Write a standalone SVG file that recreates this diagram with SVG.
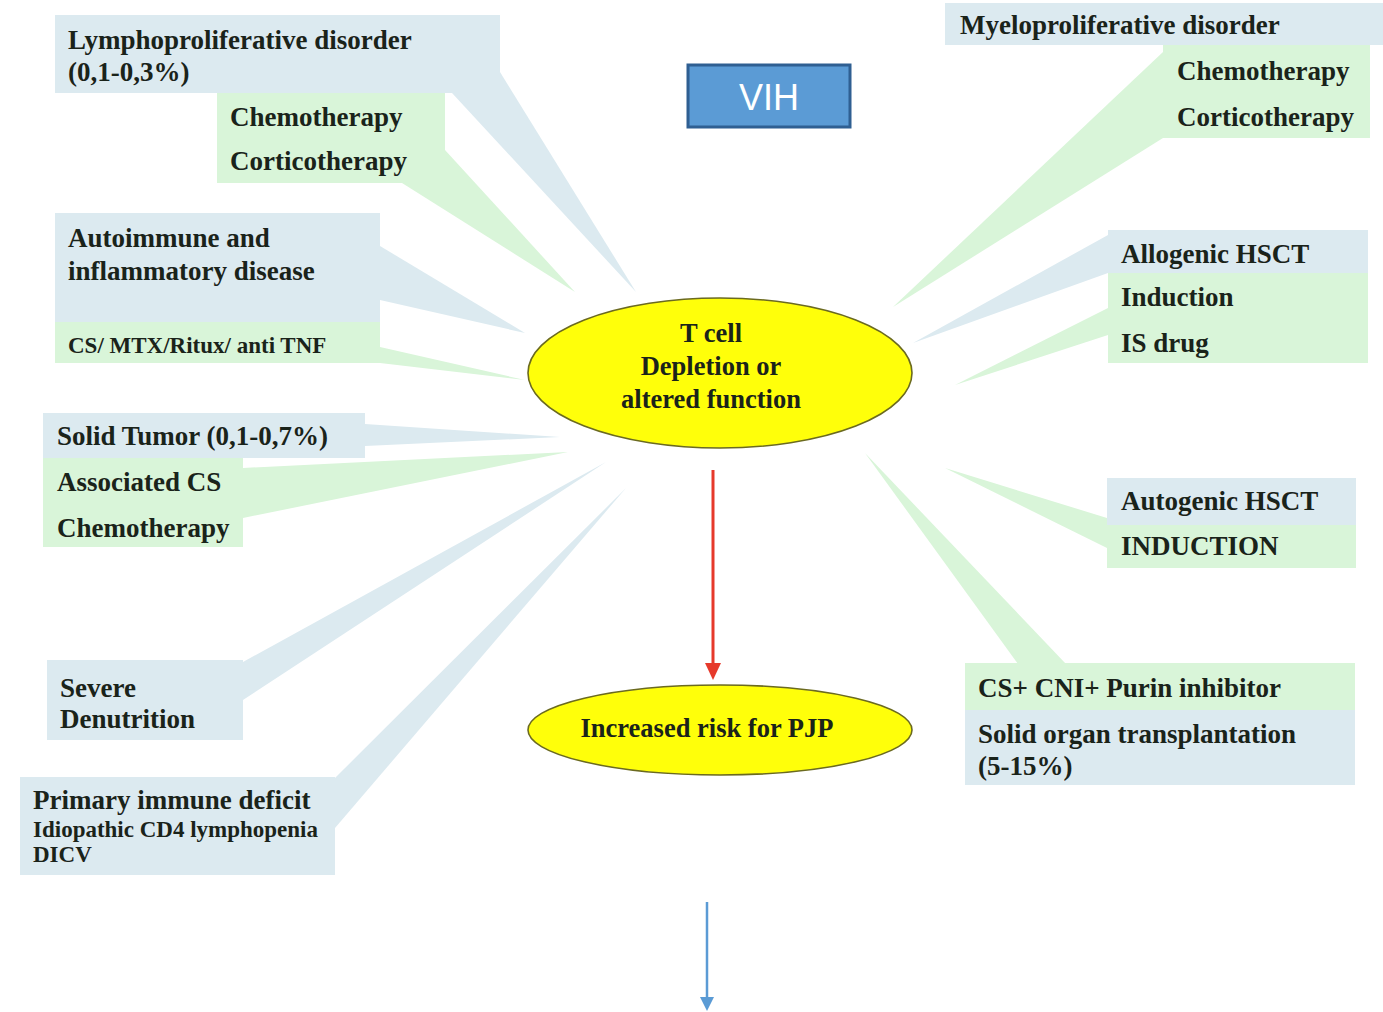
<svg xmlns="http://www.w3.org/2000/svg" width="1383" height="1012" viewBox="0 0 1383 1012">
<style>
.bl{fill:#dceaf0}
.gr{fill:#d9f5d9}
.t{font-family:"Liberation Serif","Times New Roman",serif;font-weight:bold;font-size:27px;fill:#1a231a}
.s{font-size:23px}
.e{font-size:26.5px}
.ell{fill:#ffff0a;stroke:#6b6a20;stroke-width:1.6}
.c{text-anchor:middle}
</style>
<rect width="1383" height="1012" fill="#ffffff"/>
<g id="connectors">
<polygon class="bl" points="452,93 500,72 636,292"/>
<polygon class="gr" points="402,183 445,150 575,292"/>
<polygon class="bl" points="380,246 380,300 525,333"/>
<polygon class="gr" points="380,347 380,363 525,380"/>
<polygon class="bl" points="365,424 365,446 560,437"/>
<polygon class="gr" points="243,468 243,518 568,452"/>
<polygon class="bl" points="243,662 243,700 606,462"/>
<polygon class="bl" points="335,778 335,828 626,488"/>
<polygon class="gr" points="1163,52 1163,138 893,307"/>
<polygon class="bl" points="1108,235 1108,273 913,343"/>
<polygon class="gr" points="1108,308 1108,335 955,385"/>
<polygon class="gr" points="1107,518 1107,548 945,468"/>
<polygon class="gr" points="1018,664 1066,664 865,453"/>
<line x1="713" y1="470" x2="713" y2="666" stroke="#e6392b" stroke-width="3"/>
<polygon points="705,663 721,663 713,680" fill="#e6392b"/>
<line x1="707" y1="902" x2="707" y2="998" stroke="#5b9bd5" stroke-width="2.5"/>
<polygon points="700,997 714,997 707,1011" fill="#5b9bd5"/>
</g>
<g id="lympho">
<rect class="bl" x="55" y="15" width="445" height="78"/>
<text class="t" x="68" y="49">Lymphoproliferative disorder</text>
<text class="t" x="68" y="81">(0,1-0,3%)</text>
</g>
<g id="lympho-tx">
<rect class="gr" x="217" y="93" width="228" height="90"/>
<text class="t" x="230" y="126">Chemotherapy</text>
<text class="t" x="230" y="170">Corticotherapy</text>
</g>
<g id="autoimmune">
<rect class="bl" x="55" y="213" width="325" height="109"/>
<text class="t" x="68" y="247">Autoimmune and</text>
<text class="t" x="68" y="280">inflammatory disease</text>
<rect class="gr" x="55" y="322" width="325" height="41"/>
<text class="t s" x="68" y="353">CS/ MTX/Ritux/ anti TNF</text>
</g>
<g id="solid-tumor">
<rect class="bl" x="43" y="413" width="322" height="45"/>
<text class="t" x="57" y="445">Solid Tumor (0,1-0,7%)</text>
<rect class="gr" x="43" y="458" width="200" height="89"/>
<text class="t" x="57" y="491">Associated CS</text>
<text class="t" x="57" y="537">Chemotherapy</text>
</g>
<g id="denutrition">
<rect class="bl" x="47" y="660" width="196" height="80"/>
<text class="t" x="60" y="697">Severe</text>
<text class="t" x="60" y="728">Denutrition</text>
</g>
<g id="primary">
<rect class="bl" x="20" y="777" width="315" height="98"/>
<text class="t" x="33" y="809">Primary immune deficit</text>
<text class="t s" x="33" y="837">Idiopathic CD4 lymphopenia</text>
<text class="t s" x="33" y="862">DICV</text>
</g>
<g id="myelo">
<rect class="bl" x="945" y="3" width="438" height="42"/>
<text class="t" x="960" y="34">Myeloproliferative disorder</text>
<rect class="gr" x="1163" y="45" width="207" height="93"/>
<text class="t" x="1177" y="80">Chemotherapy</text>
<text class="t" x="1177" y="126">Corticotherapy</text>
</g>
<g id="allogenic">
<rect class="bl" x="1108" y="230" width="260" height="43"/>
<text class="t" x="1121" y="263">Allogenic HSCT</text>
<rect class="gr" x="1108" y="273" width="260" height="90"/>
<text class="t" x="1121" y="306">Induction</text>
<text class="t" x="1121" y="352">IS drug</text>
</g>
<g id="autogenic">
<rect class="bl" x="1107" y="478" width="249" height="47"/>
<text class="t" x="1121" y="510">Autogenic HSCT</text>
<rect class="gr" x="1107" y="525" width="249" height="43"/>
<text class="t" x="1121" y="555">INDUCTION</text>
</g>
<g id="solid-organ">
<rect class="gr" x="965" y="663" width="390" height="47"/>
<text class="t" x="978" y="697">CS+ CNI+ Purin inhibitor</text>
<rect class="bl" x="965" y="710" width="390" height="75"/>
<text class="t" x="978" y="743">Solid organ transplantation</text>
<text class="t" x="978" y="775">(5-15%)</text>
</g>
<g id="tcell">
<ellipse class="ell" cx="720" cy="373" rx="192" ry="75"/>
<text class="t e c" x="711" y="342">T cell</text>
<text class="t e c" x="711" y="375">Depletion or</text>
<text class="t e c" x="711" y="408">altered function</text>
</g>
<g id="risk">
<ellipse class="ell" cx="720" cy="730" rx="192" ry="45"/>
<text class="t e c" x="707" y="737">Increased risk for PJP</text>
</g>
<g id="vih">
<rect x="688" y="65" width="162" height="62" fill="#5b9bd5" stroke="#2f5f92" stroke-width="3"/>
<text x="769" y="110" text-anchor="middle" font-family="Liberation Sans, Arial, sans-serif" font-size="36" fill="#ffffff">VIH</text>
</g>
</svg>
